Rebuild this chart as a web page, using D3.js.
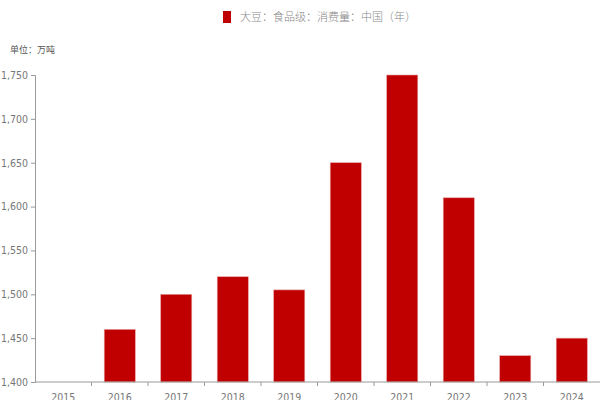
<!DOCTYPE html>
<html>
<head>
<meta charset="utf-8">
<script src="https://cdn.jsdelivr.net/npm/d3@7"></script>
<style>
  html, body { margin: 0; padding: 0; background: #fff; }
  svg { display: block; font-family: "DejaVu Sans Condensed", "Liberation Sans Narrow", "Noto Sans CJK SC", sans-serif; }
</style>
</head>
<body>
<svg id="chart" width="602" height="400"></svg>
<script>
// Annual values, soybean food-grade consumption in China (10k tonnes)
const years = ["2015", "2016", "2017", "2018", "2019", "2020", "2021", "2022", "2023", "2024"];
const consumption = [null, 1460, 1500, 1520, 1505, 1650, 1750, 1610, 1430, 1450];
const yTicks = [1400, 1450, 1500, 1550, 1600, 1650, 1700, 1750];
const seriesName = "大豆：食品级：消费量：中国（年）";
const unitLabel = "单位：万吨";

const svg = d3.select("#chart");
const margin = { left: 35, right: 2, top: 75, bottom: 18 };
const W = 602, H = 400;

const x = d3.scaleBand()
  .domain(years)
  .range([margin.left, W - margin.right])
  .paddingInner(0.45)
  .paddingOuter(0.225);

const y = d3.scaleLinear()
  .domain([1400, 1750])
  .range([H - margin.bottom, margin.top]);

const fmt = d3.format(",");
const textColor = "#777";
const axisColor = "#999";

// bars
svg.append("g")
  .selectAll("rect")
  .data(years.map((yr, i) => ({ yr, v: consumption[i] })).filter(d => d.v != null))
  .join("rect")
  .attr("x", d => x(d.yr))
  .attr("width", x.bandwidth())
  .attr("y", d => y(d.v))
  .attr("height", d => y(1400) - y(d.v))
  .attr("fill", "#c00000")
  .attr("stroke", "#e8a0a0")
  .attr("stroke-width", 0.6);

// y axis
const yAxis = svg.append("g")
  .attr("transform", `translate(${margin.left},0)`)
  .call(d3.axisLeft(y).tickValues(yTicks).tickFormat(fmt).tickSize(4).tickPadding(3));
yAxis.select(".domain").attr("stroke", axisColor);
yAxis.selectAll(".tick line").attr("stroke", axisColor);
yAxis.selectAll(".tick text").attr("fill", textColor).style("font-size", "10.5px")
  .style("font-family", "'DejaVu Sans Condensed', sans-serif");

// x axis with ticks on band boundaries
const xAxisG = svg.append("g")
  .attr("transform", `translate(0,${y(1400)})`);
xAxisG.append("line")
  .attr("x1", margin.left).attr("x2", W - margin.right)
  .attr("stroke", axisColor);
const step = x.step();
const bounds = years.map(yr => x(yr) - (step - x.bandwidth()) / 2).slice(1);
xAxisG.selectAll("line.tk")
  .data(bounds)
  .join("line")
  .attr("class", "tk")
  .attr("x1", d => d).attr("x2", d => d)
  .attr("y1", 0).attr("y2", 4)
  .attr("stroke", axisColor);
xAxisG.selectAll("text")
  .data(years)
  .join("text")
  .attr("x", d => x(d) + x.bandwidth() / 2)
  .attr("y", 18.5)
  .attr("text-anchor", "middle")
  .attr("fill", textColor)
  .style("font-size", "10.5px")
  .style("font-family", "'DejaVu Sans Condensed', sans-serif")
  .text(d => d);

// legend
const legend = svg.append("g").attr("transform", "translate(223,11)");
legend.append("rect").attr("width", 8).attr("height", 12).attr("fill", "#c00000");
legend.append("text")
  .attr("x", 17).attr("y", 10)
  .attr("fill", "#888")
  .style("font-size", "11px")
  .style("font-family", "'Noto Sans CJK SC', sans-serif")
  .style("font-weight", 300)
  .text(seriesName);

// unit label
svg.append("text")
  .attr("x", 10).attr("y", 53)
  .attr("fill", "#555")
  .style("font-size", "9px")
  .style("font-family", "'Noto Sans CJK SC', sans-serif")
  .text(unitLabel);
</script>
</body>
</html>
